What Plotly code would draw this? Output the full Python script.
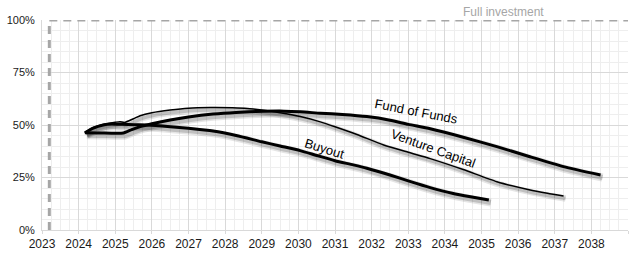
import plotly.graph_objects as go

# ---- data (year, % of commitment) ----
buyout_x = [2024.17, 2024.4, 2024.67, 2024.9, 2025.2, 2025.5, 2025.86, 2026.5, 2027.0, 2027.67,
            2028.3, 2029.0, 2029.5, 2030.05, 2030.5, 2031.0, 2031.5, 2031.87, 2032.5, 2033.0,
            2033.6, 2034.2, 2034.7, 2035.2]
buyout_y = [46.3, 48.5, 50.0, 50.5, 50.3, 50.1, 50.0, 49.2, 48.4, 47.1,
            45.0, 42.0, 40.0, 37.8, 35.5, 33.0, 31.0, 29.4, 26.2, 23.4,
            20.2, 17.5, 15.8, 14.3]

vc_x = [2024.17, 2024.4, 2024.67, 2025.0, 2025.13, 2025.25, 2025.5, 2025.68, 2026.0, 2026.5,
        2027.0, 2027.6, 2028.2, 2028.6, 2029.0, 2029.5, 2030.05, 2030.6, 2031.0, 2031.6,
        2032.33, 2033.0, 2033.6, 2034.5, 2035.42, 2036.3, 2036.8, 2037.24]
vc_y = [46.3, 48.8, 50.3, 51.3, 51.6, 51.2, 53.0, 54.4, 55.8, 57.1,
        58.0, 58.3, 58.2, 57.9, 57.1, 55.8, 54.0, 51.5, 49.2, 45.5,
        40.5, 37.0, 34.0, 28.8, 23.0, 19.2, 17.5, 16.2]

fof_x = [2024.17, 2024.5, 2024.9, 2025.22, 2025.45, 2025.68, 2026.0, 2026.5, 2027.0, 2027.67,
         2028.3, 2029.04, 2029.6, 2030.05, 2030.6, 2031.2, 2031.87, 2032.5, 2033.0, 2033.6,
         2034.5, 2035.42, 2036.3, 2037.24, 2038.25]
fof_y = [46.3, 46.2, 46.1, 46.2, 47.8, 49.2, 50.6, 52.4, 53.8, 55.2,
         56.0, 56.5, 56.6, 56.3, 55.6, 55.0, 54.0, 52.3, 50.3, 48.2,
         44.2, 39.7, 35.0, 30.2, 26.2]

full_investment_level = 100
full_investment_start = 2023.2

year_ticks = list(range(2023, 2040))
year_labels = [str(y) for y in range(2023, 2039)] + [""]
pct_ticks = [0, 25, 50, 75, 100]
pct_labels = ["0%", "25%", "50%", "75%", "100%"]

X_RANGE = [2023, 2039]
Y_RANGE = [0, 100]

# plot geometry (pixels) for shadow offset
PLOT_W = 586
PLOT_H = 210
SHADOW_DX = 2.0
SHADOW_DY = 2.5
sx = (X_RANGE[1] - X_RANGE[0]) / PLOT_W * SHADOW_DX
sy = (Y_RANGE[1] - Y_RANGE[0]) / PLOT_H * SHADOW_DY

series = [
    ("Fund of Funds", fof_x, fof_y, 3.0),
    ("Venture Capital", vc_x, vc_y, 1.5),
    ("Buyout", buyout_x, buyout_y, 3.0),
]

fig = go.Figure()

# shadows on base axes (shifted range)
for name, xs, ys, w in series:
    fig.add_trace(go.Scatter(x=xs, y=ys, mode="lines", xaxis="x", yaxis="y",
                             line=dict(color="rgba(0,0,0,0.10)", width=w + 5,
                                       shape="spline", smoothing=0.6),
                             hoverinfo="skip", showlegend=False))
    fig.add_trace(go.Scatter(x=xs, y=ys, mode="lines", xaxis="x", yaxis="y",
                             line=dict(color="rgba(0,0,0,0.16)", width=w + 2,
                                       shape="spline", smoothing=0.6),
                             hoverinfo="skip", showlegend=False))

# full investment dashed line
fig.add_trace(go.Scatter(
    x=[full_investment_start, full_investment_start, X_RANGE[1]],
    y=[Y_RANGE[0], full_investment_level, full_investment_level],
    mode="lines", xaxis="x2", yaxis="y2",
    line=dict(color="#a6a6a6", width=3, dash="8px,6px"),
    hoverinfo="skip", showlegend=False, cliponaxis=False))

for name, xs, ys, w in series:
    fig.add_trace(go.Scatter(x=xs, y=ys, mode="lines", name=name, xaxis="x2", yaxis="y2",
                             line=dict(color="black", width=w, shape="spline", smoothing=0.6),
                             showlegend=False))

grid_major = "#d9d9d9"
grid_minor = "#eeeeee"

fig.update_layout(
    width=640, height=254,
    margin=dict(l=42, r=12, t=20, b=24, autoexpand=False),
    paper_bgcolor="white", plot_bgcolor="white",
    font=dict(family="Liberation Sans, Arial, sans-serif", color="#1a1a1a"),
    showlegend=False,
    xaxis=dict(range=[X_RANGE[0] - sx, X_RANGE[1] - sx], showgrid=False, showticklabels=False,
               zeroline=False, showline=False, ticks="", automargin=False),
    yaxis=dict(range=[Y_RANGE[0] + sy, Y_RANGE[1] + sy], showgrid=False, showticklabels=False,
               zeroline=False, showline=False, ticks="", automargin=False),
    xaxis2=dict(range=X_RANGE, overlaying="x", side="bottom", automargin=False,
                tickmode="array", tickvals=year_ticks, ticktext=year_labels,
                showgrid=True, gridcolor=grid_major, gridwidth=1,
                minor=dict(dtick=0.25, tick0=2023, showgrid=True, gridcolor=grid_minor, gridwidth=1),
                zeroline=False, showline=True, linecolor=grid_major,
                ticks="outside", ticklen=3, tickcolor=grid_major,
                tickfont=dict(size=12, color="#1a1a1a")),
    yaxis2=dict(range=Y_RANGE, overlaying="y", side="left", automargin=False,
                tickmode="array", tickvals=pct_ticks, ticktext=pct_labels,
                showgrid=True, gridcolor=grid_major, gridwidth=1,
                minor=dict(dtick=5, tick0=0, showgrid=True, gridcolor=grid_minor, gridwidth=1),
                zeroline=False, showline=True, linecolor=grid_major,
                ticks="", ticklabelstandoff=4,
                tickfont=dict(size=11, color="#1a1a1a")),
    annotations=[
        dict(text="Full investment", xref="x2", yref="paper", x=2035.6, y=1.0,
             yanchor="bottom", xanchor="center", showarrow=False, yshift=-1,
             font=dict(size=12, color="#a6a6a6")),
        dict(text="Fund of Funds", xref="x2", yref="y2", x=2033.22, y=56.2,
             showarrow=False, textangle=11, font=dict(size=13, color="black")),
        dict(text="Venture Capital", xref="x2", yref="y2", x=2033.68, y=39.0,
             showarrow=False, textangle=20, font=dict(size=13, color="black")),
        dict(text="Buyout", xref="x2", yref="y2", x=2030.7, y=38.6,
             showarrow=False, textangle=17, font=dict(size=13, color="black")),
    ],
)

fig.write_html("out.html")
